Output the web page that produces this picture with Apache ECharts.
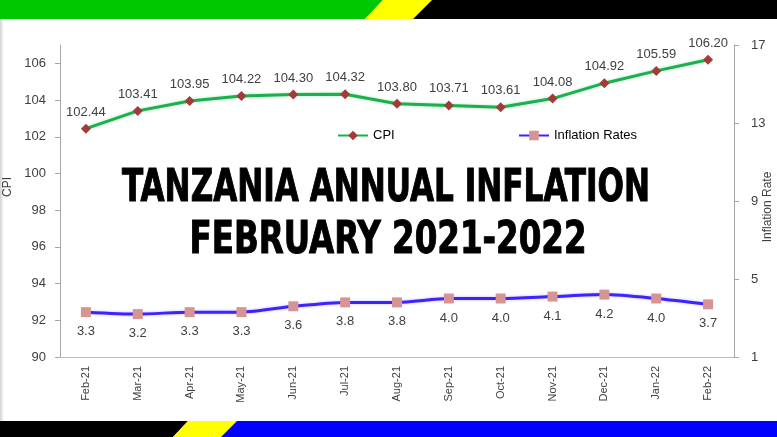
<!DOCTYPE html>
<html><head><meta charset="utf-8">
<script src="https://cdn.jsdelivr.net/npm/echarts@6/dist/echarts.min.js"></script>
<style>html,body{margin:0;padding:0;background:#fff}#c{width:777px;height:437px}</style>
</head><body><div id="c"></div>
<script>
const months = ['Feb-21','Mar-21','Apr-21','May-21','Jun-21','Jul-21','Aug-21','Sep-21','Oct-21','Nov-21','Dec-21','Jan-22','Feb-22'];
const cpi = [102.44,103.41,103.95,104.22,104.30,104.32,103.80,103.71,103.61,104.08,104.92,105.59,106.20];
const inflation = [3.3,3.2,3.3,3.3,3.6,3.8,3.8,4.0,4.0,4.1,4.2,4.0,3.7];
const cpiTicks = [90,92,94,96,98,100,102,104,106];
const rateTicks = [1,5,9,13,17];
const titleLines = ['TANZANIA ANNUAL INFLATION','FEBRUARY 2021-2022'];
const axisNames = ['CPI','Inflation Rate'];

const TITLE_FONT = 'bold 44px "DejaVu Sans Condensed","Liberation Sans Narrow","DejaVu Sans",sans-serif';
function fitScale(text, targetW){
  const ctx = document.createElement('canvas').getContext('2d');
  ctx.font = TITLE_FONT;
  return targetW / ctx.measureText(text).width;
}
const chart = echarts.init(document.getElementById('c'), null, {renderer:'canvas'});
const txt = '#404040';
const FF = '"Liberation Sans", Arial, sans-serif';
chart.setOption({
  animation:false,
  backgroundColor:'#fff',
  grid:{left:60,right:43,top:45,bottom:80,containLabel:false,outerBoundsMode:'none'},
  legend:[
    {left:332,top:124,data:['CPI'],itemWidth:30,itemHeight:12,textStyle:{fontSize:13,color:'#000',fontFamily:FF}},
    {left:513,top:124,data:['Inflation Rates'],itemWidth:30,itemHeight:12,textStyle:{fontSize:13,color:'#000',fontFamily:FF}}
  ],
  xAxis:{type:'category',data:months,boundaryGap:true,
    axisLine:{lineStyle:{color:'#bfbfbf'}},axisTick:{show:false},
    axisLabel:{rotate:90,fontSize:11,color:txt,fontFamily:FF,margin:9,interval:0}},
  yAxis:[
    {type:'value',min:90,max:107,position:'left',
     axisLine:{show:true,lineStyle:{color:'#a6a6a6'}},
     axisTick:{show:true,length:5,customValues:cpiTicks,lineStyle:{color:'#a6a6a6'}},
     axisLabel:{customValues:cpiTicks,fontSize:13,color:txt,fontFamily:FF,margin:14},
     splitLine:{show:false}},
    {type:'value',min:1,max:17,position:'right',
     axisLine:{show:true,lineStyle:{color:'#a6a6a6'}},
     axisTick:{show:true,length:5,customValues:rateTicks,lineStyle:{color:'#a6a6a6'}},
     axisLabel:{customValues:rateTicks,fontSize:13,color:txt,fontFamily:FF,margin:17},
     splitLine:{show:false}}
  ],
  series:[
    {name:'CPI',type:'line',yAxisIndex:0,data:cpi,symbol:'diamond',symbolSize:10,
     itemStyle:{color:'#a33a38'},
     lineStyle:{color:'#1cb04c',width:3,shadowColor:'rgba(0,176,80,0.35)',shadowBlur:3},
     label:{show:true,position:'top',distance:5,fontSize:13,color:txt,fontFamily:FF,formatter:p=>p.value.toFixed(2)}},
    {name:'Inflation Rates',type:'line',yAxisIndex:1,data:inflation,symbol:'rect',symbolSize:10,smooth:0.25,
     itemStyle:{color:'#d69592'},
     lineStyle:{color:'#3e22ff',width:3,shadowColor:'rgba(60,40,255,0.3)',shadowBlur:3},
     label:{show:true,position:'bottom',distance:8,fontSize:13,color:txt,fontFamily:FF,formatter:p=>p.value.toFixed(1)}}
  ],
  graphic:[
    {type:'polygon',silent:true,shape:{points:[[0,0],[383,0],[365,19],[0,19]]},style:{fill:'#00c800'}},
    {type:'polygon',silent:true,shape:{points:[[383,0],[432,0],[413,19],[365,19]]},style:{fill:'#ffff00'}},
    {type:'polygon',silent:true,shape:{points:[[432,0],[777,0],[777,19],[413,19]]},style:{fill:'#000'}},
    {type:'polygon',silent:true,shape:{points:[[0,421],[188,421],[173,437],[0,437]]},style:{fill:'#000'}},
    {type:'polygon',silent:true,shape:{points:[[188,421],[237,421],[221,437],[173,437]]},style:{fill:'#ffff00'}},
    {type:'polygon',silent:true,shape:{points:[[237,421],[777,421],[777,437],[221,437]]},style:{fill:'#0000ff'}},
    {type:'rect',silent:true,shape:{x:0,y:19,width:4,height:402},
     style:{fill:new echarts.graphic.LinearGradient(0,0,1,0,[{offset:0,color:'rgba(0,0,0,0.18)'},{offset:1,color:'rgba(0,0,0,0)'}])}},
    {type:'text',silent:true,x:8,y:187,rotation:Math.PI/2,
     style:{text:axisNames[0],font:'12px '+FF,fill:txt,align:'center',verticalAlign:'middle'}},
    {type:'text',silent:true,x:768,y:207,rotation:Math.PI/2,
     style:{text:axisNames[1],font:'12px '+FF,fill:txt,align:'center',verticalAlign:'middle'}},
    {type:'text',silent:true,x:386,y:190,scaleX:fitScale(titleLines[0],528),z:100,
     style:{text:titleLines[0],font:TITLE_FONT,fill:'#000',stroke:'#000',lineWidth:1,align:'center',verticalAlign:'middle'}},
    {type:'text',silent:true,x:388,y:242,scaleX:fitScale(titleLines[1],397),z:100,
     style:{text:titleLines[1],font:TITLE_FONT,fill:'#000',stroke:'#000',lineWidth:1,align:'center',verticalAlign:'middle'}}
  ]
});
</script></body></html>
